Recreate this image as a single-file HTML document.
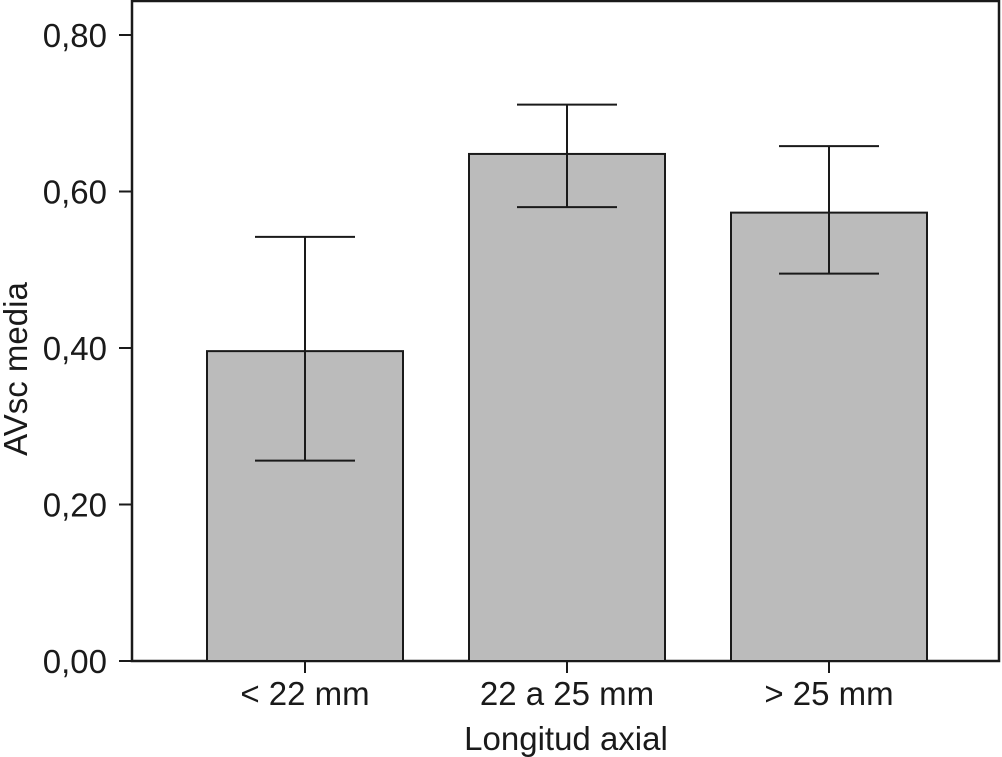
<!DOCTYPE html>
<html><head><meta charset="utf-8"><style>
body{margin:0;background:#fff}
svg{display:block;font-family:"Liberation Sans",sans-serif}
</style></head><body>
<svg id="chart" width="1002" height="757">
<rect x="132" y="1" width="867" height="660" fill="none" stroke="#1a1a1a" stroke-width="2.5"/>
<g id="bars"></g><g id="axes"></g>
<text x="566" y="750" font-size="33" text-anchor="middle" fill="#1a1a1a">Longitud axial</text>
<text transform="translate(27,369) rotate(-90)" font-size="33" text-anchor="middle" fill="#1a1a1a">AVsc media</text>
</svg>
<script>
const categories = ["< 22 mm", "22 a 25 mm", "> 25 mm"];
const means = [0.396, 0.648, 0.573];
const errHigh = [0.542, 0.711, 0.658];
const errLow = [0.256, 0.580, 0.495];
const yTicks = [0, 0.2, 0.4, 0.6, 0.8];
const yTickLabels = ["0,00", "0,20", "0,40", "0,60", "0,80"];

const NS = "http://www.w3.org/2000/svg";
const y = v => 661 - v * 782.5;
const xc = i => 305 + i * 262;
const bw = 196, cap = 50;
function mk(tag, attrs, parent){const e=document.createElementNS(NS,tag);for(const k in attrs)e.setAttribute(k,attrs[k]);parent.appendChild(e);return e;}
const bars=document.getElementById('bars'), axes=document.getElementById('axes');
categories.forEach((c,i)=>{
  const r=mk('rect',{x:xc(i)-bw/2,y:y(means[i]),width:bw,height:661-y(means[i]),fill:'#bbbbbb',stroke:'#1a1a1a','stroke-width':2},bars);
  
  
  const eb=mk('path',{d:`M${xc(i)-cap},${y(errHigh[i])}H${xc(i)+cap}M${xc(i)},${y(errHigh[i])}V${y(errLow[i])}M${xc(i)-cap},${y(errLow[i])}H${xc(i)+cap}`,stroke:'#1a1a1a','stroke-width':2,fill:'none'},bars);
  
  
  const t=mk('line',{x1:xc(i),x2:xc(i),y1:661,y2:673,stroke:'#1a1a1a','stroke-width':2},axes);
  
  
  const l=mk('text',{x:xc(i),y:705,'font-size':33,'text-anchor':'middle',fill:'#1a1a1a'},axes);
  l.textContent=c;
  
  
});
yTicks.forEach((v,i)=>{
  const t=mk('line',{x1:119,x2:132,y1:y(v),y2:y(v),stroke:'#1a1a1a','stroke-width':2},axes);
  
  
  const l=mk('text',{x:107,y:y(v)+12,'font-size':33,'text-anchor':'end',fill:'#1a1a1a'},axes);
  l.textContent=yTickLabels[i];
  
  
});
</script>
</body></html>
